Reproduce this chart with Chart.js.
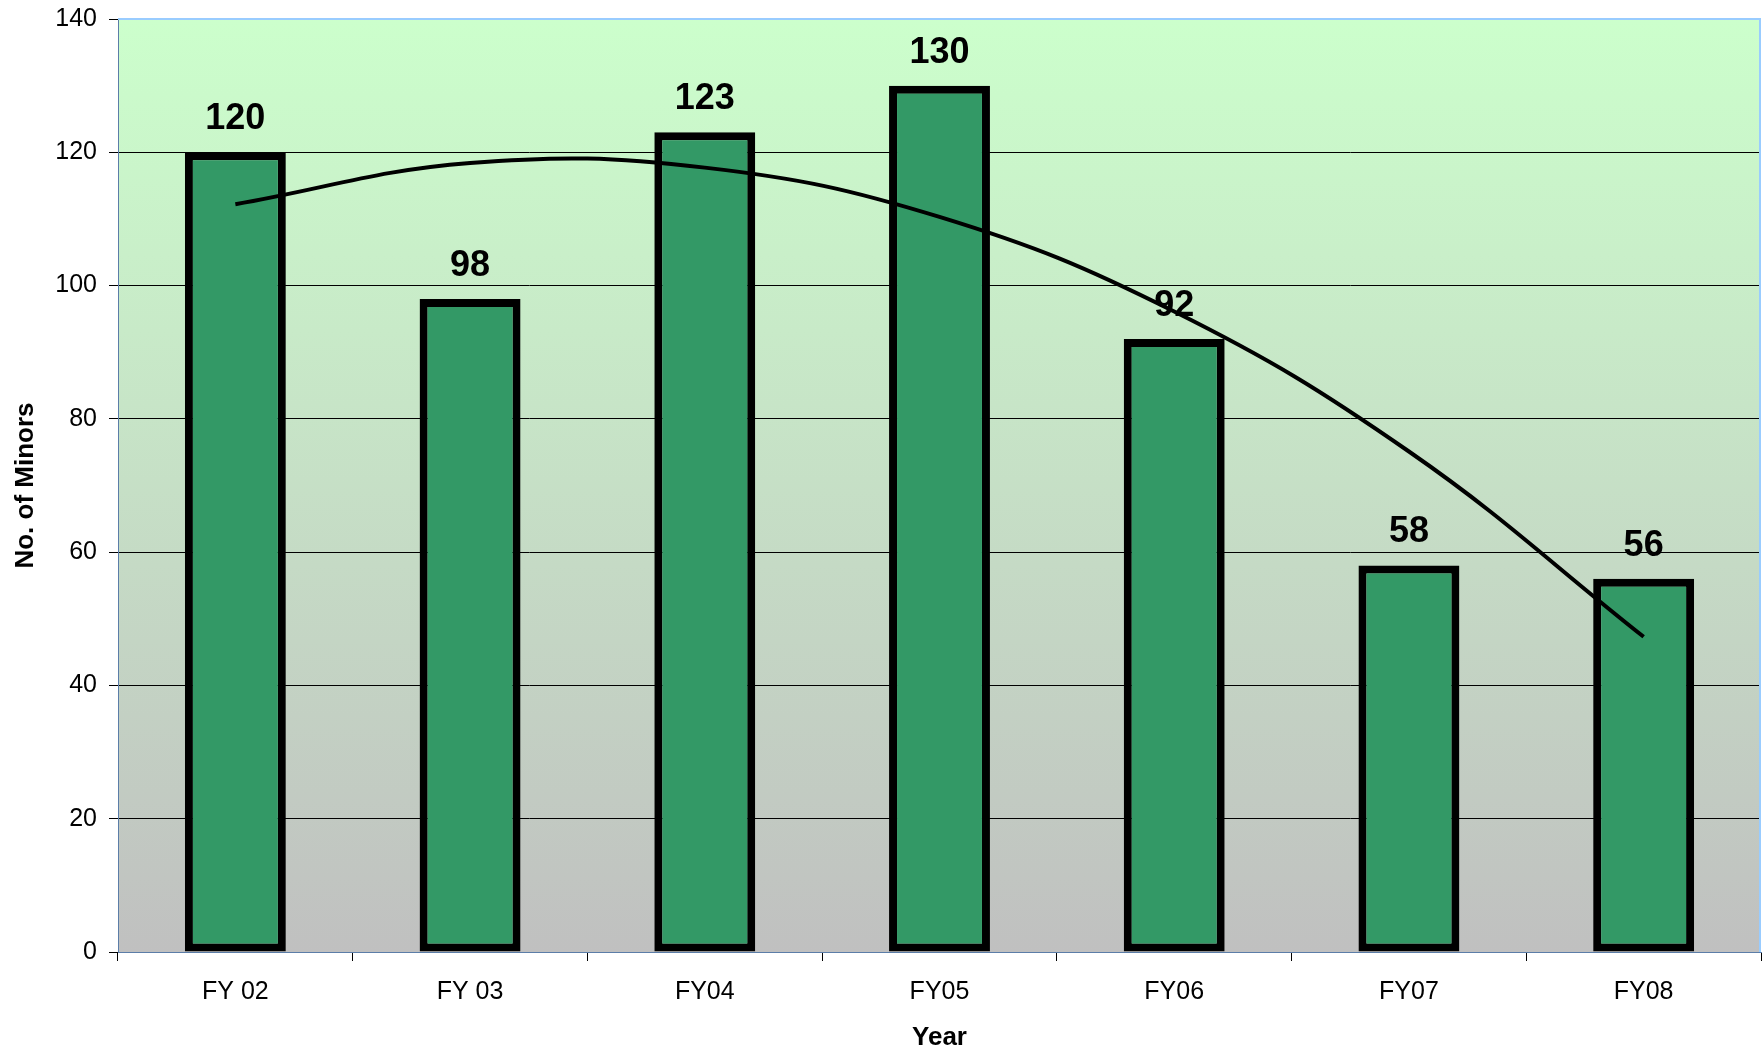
<!DOCTYPE html>
<html>
<head>
<meta charset="utf-8">
<script src="https://cdn.jsdelivr.net/npm/chart.js@4"></script>
<style>
    html, body { margin: 0; padding: 0; background: #fff; }
    #wrap { width: 1762px; height: 1051px; }
</style>
</head>
<body>
<div id="wrap"><canvas id="minors-chart"></canvas></div>
<script>
// chart data
const years = ['FY 02', 'FY 03', 'FY04', 'FY05', 'FY06', 'FY07', 'FY08'];
const minors = [120, 98, 123, 130, 92, 58, 56];
// polynomial trend line, values at each category
const trend = [112.2, 118.4, 117.7, 110.3, 96.1, 75.1, 47.3];

const FONT = '"Liberation Sans", Arial, sans-serif';

// gradient background and light blue frame for the plot area
const plotBackground = {
    id: 'plotBackground',
    beforeDraw(chart) {
        const { ctx, chartArea: a } = chart;
        const g = ctx.createLinearGradient(0, a.top, 0, a.bottom);
        g.addColorStop(0, '#ccffcc');
        g.addColorStop(1, '#c0c0c0');
        ctx.save();
        ctx.fillStyle = g;
        ctx.fillRect(a.left, a.top, a.right - a.left, a.bottom - a.top);
        ctx.restore();
    },
    beforeDatasetsDraw(chart) {
        const { ctx, chartArea: a } = chart;
        ctx.save();
        ctx.strokeStyle = '#99ccff';
        ctx.lineWidth = 2;
        ctx.beginPath();
        ctx.moveTo(a.left, a.top);
        ctx.lineTo(a.right - 1, a.top);
        ctx.lineTo(a.right - 1, a.bottom);
        ctx.stroke();
        ctx.restore();
    }
};

// value labels above the bars
const barLabels = {
    id: 'barLabels',
    afterDatasetsDraw(chart) {
        const { ctx } = chart;
        const meta = chart.getDatasetMeta(0);
        ctx.save();
        ctx.font = 'bold 36px ' + FONT;
        ctx.fillStyle = '#000';
        ctx.textAlign = 'center';
        ctx.textBaseline = 'alphabetic';
        meta.data.forEach((bar, i) => {
            ctx.fillText(String(minors[i]), bar.x, bar.y - 23);
        });
        ctx.restore();
    }
};

new Chart(document.getElementById('minors-chart'), {
    type: 'bar',
    data: {
        labels: years,
        datasets: [{
            type: 'bar',
            data: minors,
            backgroundColor: '#339966',
            borderColor: '#000',
            borderWidth: 8,
            borderSkipped: false,
            barPercentage: 0.43,
            categoryPercentage: 1,
            order: 1
        }, {
            type: 'line',
            data: trend,
            borderColor: '#000',
            borderWidth: 4,
            pointRadius: 0,
            tension: 0.4,
            fill: false,
            order: 0
        }]
    },
    options: {
        responsive: true,
        maintainAspectRatio: false,
        animation: false,
        layout: { padding: { top: 19, right: 1, left: 0, bottom: 0 } },
        plugins: {
            legend: { display: false },
            tooltip: { enabled: false }
        },
        scales: {
            x: {
                grid: {
                    offset: true,
                    drawOnChartArea: false,
                    drawTicks: true,
                    tickLength: 9,
                    color: '#000'
                },
                border: { color: '#5b7da8', width: 1 },
                ticks: {
                    color: '#000',
                    padding: 16,
                    font: { family: FONT, size: 25 }
                },
                title: {
                    display: true,
                    text: 'Year',
                    color: '#000',
                    font: { family: FONT, size: 26, weight: 'bold', lineHeight: 1 },
                    padding: { top: 0, bottom: 0 }
                },
                afterFit(scale) { scale.height = 99; }
            },
            y: {
                min: 0,
                max: 140,
                ticks: {
                    stepSize: 20,
                    color: '#000',
                    padding: 12,
                    font: { family: FONT, size: 25 }
                },
                grid: {
                    color: '#000',
                    lineWidth: 1,
                    tickLength: 9
                },
                border: { color: '#5b7da8', width: 1 },
                title: {
                    display: true,
                    text: 'No. of Minors',
                    color: '#000',
                    font: { family: FONT, size: 26, weight: 'bold' },
                    padding: { top: 10, bottom: 0 }
                },
                afterFit(scale) {
                    scale.width = 118;
                    scale.paddingTop = 0;
                    scale.paddingBottom = 0;
                }
            }
        }
    },
    plugins: [plotBackground, barLabels]
});
</script>
</body>
</html>
